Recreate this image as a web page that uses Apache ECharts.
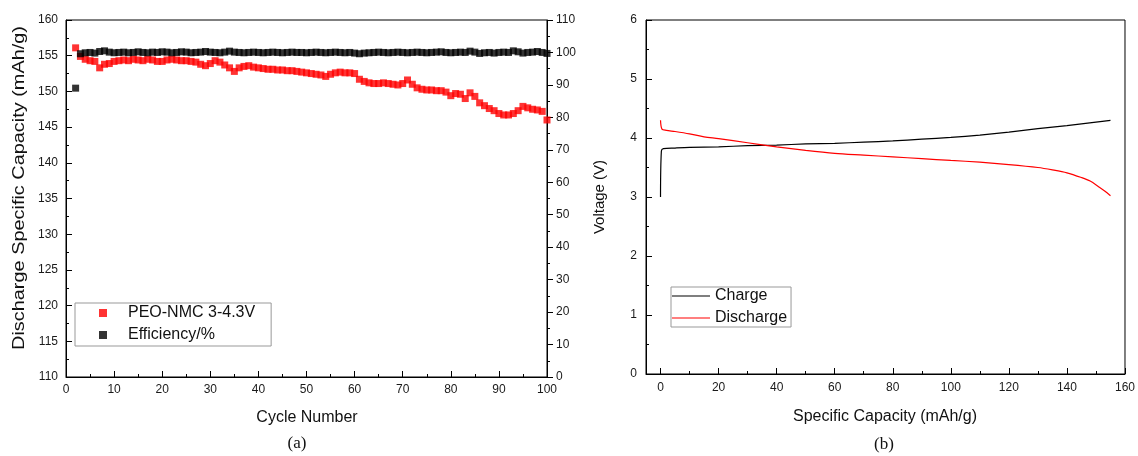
<!DOCTYPE html>
<html>
<head>
<meta charset="utf-8">
<script src="https://cdn.jsdelivr.net/npm/echarts@6/dist/echarts.min.js"></script>
<style>
  html, body { margin: 0; padding: 0; background: #fff; }
  #chart { width: 1138px; height: 456px; }
</style>
</head>
<body>
<div id="chart"></div>
<script>
// (a) cycling: cycle numbers, discharge capacity (mAh/g), coulombic efficiency (%)
const cycles = [
  2, 3, 4, 5, 6, 7, 8, 9, 10, 11,
  12, 13, 14, 15, 16, 17, 18, 19, 20, 21,
  22, 23, 24, 25, 26, 27, 28, 29, 30, 31,
  32, 33, 34, 35, 36, 37, 38, 39, 40, 41,
  42, 43, 44, 45, 46, 47, 48, 49, 50, 51,
  52, 53, 54, 55, 56, 57, 58, 59, 60, 61,
  62, 63, 64, 65, 66, 67, 68, 69, 70, 71,
  72, 73, 74, 75, 76, 77, 78, 79, 80, 81,
  82, 83, 84, 85, 86, 87, 88, 89, 90, 91,
  92, 93, 94, 95, 96, 97, 98, 99, 100
];
const capacity = [
  156.1, 154.9, 154.5, 154.3, 154.2, 153.3, 153.8, 153.9, 154.2, 154.3,
  154.4, 154.3, 154.5, 154.4, 154.3, 154.5, 154.4, 154.2, 154.2, 154.4,
  154.5, 154.4, 154.3, 154.3, 154.2, 154.1, 153.8, 153.6, 153.9, 154.3,
  154.1, 153.7, 153.3, 152.8, 153.3, 153.5, 153.6, 153.4, 153.3, 153.2,
  153.1, 153.1, 153.0, 153.0, 152.9, 152.9, 152.8, 152.7, 152.6, 152.5,
  152.4, 152.3, 152.1, 152.4, 152.6, 152.7, 152.6, 152.6, 152.5, 151.7,
  151.4, 151.2, 151.1, 151.1, 151.2, 151.1, 151.0, 150.9, 151.1, 151.6,
  151.0, 150.5, 150.3, 150.2, 150.2, 150.1, 150.1, 149.9, 149.4, 149.7,
  149.6, 149.0, 149.8, 149.3, 148.4, 148.0, 147.6, 147.3, 146.9, 146.7,
  146.7, 146.9, 147.3, 147.9, 147.7, 147.5, 147.4, 147.2, 146.0
];
const efficiency = [
  89.0, 99.6, 99.9, 100.0, 99.8, 100.3, 100.5, 100.1, 99.9, 100.0,
  100.1, 99.9, 100.0, 100.2, 100.0, 99.9, 100.1, 100.0, 100.2, 100.1,
  99.9, 100.0, 100.2, 100.1, 99.9, 100.0, 100.1, 100.3, 100.1, 100.0,
  99.9, 100.1, 100.4, 100.1, 100.0, 99.9, 100.0, 100.1, 100.0, 99.9,
  100.0, 100.1, 100.0, 99.9, 100.0, 100.1, 100.0, 100.0, 99.9, 100.0,
  100.1, 100.0, 99.9, 100.0, 100.1, 100.0, 99.9, 100.0, 99.8, 99.6,
  99.8, 99.9, 100.0, 100.1, 100.0, 99.9, 100.0, 100.1, 100.0, 99.9,
  100.0, 100.1, 100.0, 99.9, 100.0, 100.1, 100.2, 100.0, 99.9, 100.0,
  100.1, 100.0, 100.4, 100.1, 99.7, 99.9, 100.0, 99.8, 100.0, 100.1,
  100.0, 100.5, 100.2, 99.8, 100.0, 100.1, 100.3, 100.0, 99.7
];

// (b) voltage profile: specific capacity (mAh/g) and voltage (V)
const chargeCap = [0, 0.3, 1, 5, 10, 20, 30, 40, 50, 60, 70, 80, 90, 100, 110, 120, 130, 140, 150, 155];
const chargeV   = [3.0, 3.78, 3.82, 3.83, 3.84, 3.85, 3.87, 3.88, 3.90, 3.91, 3.93, 3.95, 3.98, 4.01, 4.05, 4.10, 4.16, 4.21, 4.27, 4.30];
const dischargeCap = [0, 0.5, 2, 5, 10, 15, 20, 30, 40, 50, 60, 70, 80, 90, 100, 110, 120, 130, 135, 140, 145, 148, 151, 153, 155];
const dischargeV   = [4.30, 4.15, 4.13, 4.11, 4.07, 4.02, 3.99, 3.92, 3.85, 3.79, 3.74, 3.71, 3.68, 3.65, 3.62, 3.59, 3.55, 3.50, 3.46, 3.41, 3.33, 3.27, 3.17, 3.10, 3.02];

// tick labels
const cycleTicks = [0, 10, 20, 30, 40, 50, 60, 70, 80, 90, 100];
const capMajorTicks = [0, 20, 40, 60, 80, 100, 120, 140, 160];
const capMinorTicks = [10, 30, 50, 70, 90, 110, 130, 150];

const zip = (xs, ys) => xs.map((x, i) => [x, ys[i]]);

const FONT = 'Liberation Sans, Arial, sans-serif';
const SERIF = 'Liberation Serif, Times New Roman, serif';
const labelStyle = { color: '#1a1a1a', fontSize: 12, fontFamily: FONT };
const black = { color: '#000', width: 1 };
const squareIcon = 'path://M0,0h10v10h-10z';

const chart = echarts.init(document.getElementById('chart'), null, { renderer: 'canvas' });

chart.setOption({
  backgroundColor: '#fff',
  animation: false,
  grid: [
    { left: 66, top: 20, width: 481, height: 357, show: true, borderColor: '#000', borderWidth: 1, backgroundColor: 'transparent' },
    { left: 646, top: 20, width: 480, height: 354, show: true, borderColor: '#000', borderWidth: 1, backgroundColor: 'transparent' }
  ],
  xAxis: [
    {
      gridIndex: 0, type: 'value', position: 'bottom', min: 0, max: 100, interval: 10,
      axisLine: { show: true, onZero: false, lineStyle: black },
      axisTick: { show: true, inside: true, length: 6, lineStyle: black },
      minorTick: { show: true, splitNumber: 2, length: 3, lineStyle: black },
      axisLabel: Object.assign({ margin: 7, formatter: v => cycleTicks.includes(v) ? String(v) : '' }, labelStyle),
      splitLine: { show: false }
    },
    {
      gridIndex: 1, type: 'value', position: 'bottom', min: -5, max: 160,
      axisLine: { show: true, onZero: false, lineStyle: black },
      axisTick: { show: true, inside: true, length: 6, lineStyle: black, customValues: capMajorTicks },
      axisLabel: Object.assign({ margin: 8, customValues: capMajorTicks }, labelStyle),
      splitLine: { show: false }
    },
    {
      gridIndex: 1, type: 'value', position: 'bottom', min: -5, max: 160,
      axisLine: { show: false, onZero: false },
      axisTick: { show: true, inside: true, length: 3, lineStyle: black, customValues: capMinorTicks },
      axisLabel: { show: false },
      splitLine: { show: false }
    }
  ],
  yAxis: [
    {
      gridIndex: 0, type: 'value', position: 'left', min: 110, max: 160, interval: 5,
      axisLine: { show: true, onZero: false, lineStyle: black },
      axisTick: { show: true, inside: true, length: 6, lineStyle: black },
      minorTick: { show: true, splitNumber: 2, length: 3, lineStyle: black },
      axisLabel: Object.assign({ margin: 8 }, labelStyle),
      splitLine: { show: false }
    },
    {
      gridIndex: 0, type: 'value', position: 'right', min: 0, max: 110, interval: 10,
      axisLine: { show: true, onZero: false, lineStyle: black },
      axisTick: { show: true, inside: false, length: 6, lineStyle: black },
      minorTick: { show: true, splitNumber: 2, length: 3, lineStyle: black },
      axisLabel: Object.assign({ margin: 9 }, labelStyle),
      splitLine: { show: false }
    },
    {
      gridIndex: 1, type: 'value', position: 'left', min: 0, max: 6, interval: 1,
      axisLine: { show: true, onZero: false, lineStyle: black },
      axisTick: { show: true, inside: true, length: 6, lineStyle: black },
      minorTick: { show: true, splitNumber: 2, length: 3, lineStyle: black },
      axisLabel: Object.assign({ margin: 9 }, labelStyle),
      splitLine: { show: false }
    }
  ],
  legend: [
    {
      orient: 'vertical', left: 75, top: 303,
      padding: [2, 16, 3, 24], itemGap: 6, itemWidth: 40, itemHeight: 8,
      borderColor: '#999', borderWidth: 1, backgroundColor: '#fff',
      selectedMode: false, symbolKeepAspect: true,
      textStyle: { color: '#111', fontSize: 16, fontFamily: FONT },
      data: [
        { name: 'PEO-NMC 3-4.3V', icon: squareIcon },
        { name: 'Efficiency/%', icon: squareIcon }
      ]
    },
    {
      orient: 'vertical', left: 671, top: 287,
      padding: [1, 4, 1, 1], itemGap: 6, itemWidth: 38, itemHeight: 1,
      borderColor: '#999', borderWidth: 1, backgroundColor: '#fff',
      selectedMode: false, symbolKeepAspect: false,
      textStyle: { color: '#111', fontSize: 16, fontFamily: FONT },
      data: [
        { name: 'Charge', icon: 'rect' },
        { name: 'Discharge', icon: 'rect' }
      ]
    }
  ],
  series: [
    {
      name: 'PEO-NMC 3-4.3V', type: 'scatter', xAxisIndex: 0, yAxisIndex: 0,
      symbol: 'rect', symbolSize: 7, clip: false,
      itemStyle: { color: '#ff0000' },
      data: zip(cycles, capacity)
    },
    {
      name: 'Efficiency/%', type: 'scatter', xAxisIndex: 0, yAxisIndex: 1,
      symbol: 'rect', symbolSize: 7, clip: false,
      itemStyle: { color: '#000' },
      data: zip(cycles, efficiency)
    },
    {
      name: 'Charge', type: 'line', xAxisIndex: 1, yAxisIndex: 2,
      symbol: 'none', smooth: 0.3,
      lineStyle: { color: '#000', width: 1.2 }, itemStyle: { color: '#000' },
      data: zip(chargeCap, chargeV)
    },
    {
      name: 'Discharge', type: 'line', xAxisIndex: 1, yAxisIndex: 2,
      symbol: 'none', smooth: 0.3,
      lineStyle: { color: '#ff0000', width: 1.2 }, itemStyle: { color: '#ff0000' },
      data: zip(dischargeCap, dischargeV)
    }
  ],
  graphic: [
    { type: 'text', x: 19, y: 188, rotation: Math.PI / 2, scaleX: 1.17,
      style: { text: 'Discharge Specific Capacity (mAh/g)', font: '17px ' + FONT, fill: '#111', align: 'center', verticalAlign: 'middle' } },
    { type: 'text', x: 600, y: 197, rotation: Math.PI / 2,
      style: { text: 'Voltage (V)', font: '15px ' + FONT, fill: '#111', align: 'center', verticalAlign: 'middle' } },
    { type: 'text', x: 307, y: 418,
      style: { text: 'Cycle Number', font: '16px ' + FONT, fill: '#111', align: 'center', verticalAlign: 'middle' } },
    { type: 'text', x: 885, y: 417,
      style: { text: 'Specific Capacity (mAh/g)', font: '16px ' + FONT, fill: '#111', align: 'center', verticalAlign: 'middle' } },
    { type: 'text', x: 297, y: 444,
      style: { text: '(a)', font: '17px ' + SERIF, fill: '#111', align: 'center', verticalAlign: 'middle' } },
    { type: 'text', x: 884, y: 445,
      style: { text: '(b)', font: '17px ' + SERIF, fill: '#111', align: 'center', verticalAlign: 'middle' } }
  ]
});
</script>
</body>
</html>
